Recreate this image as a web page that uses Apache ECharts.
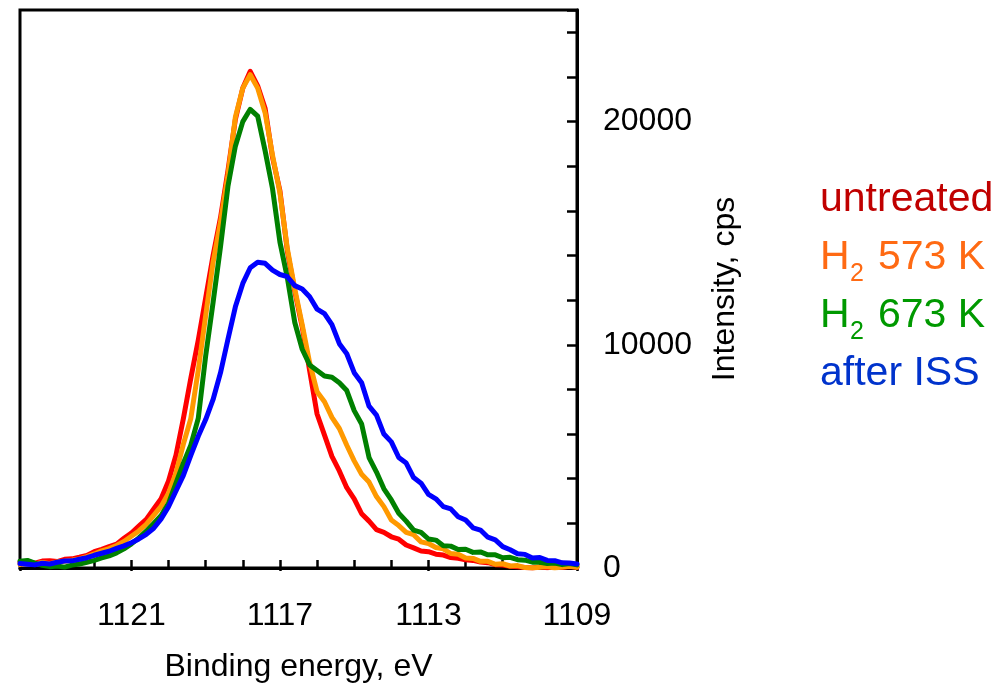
<!DOCTYPE html>
<html>
<head>
<meta charset="utf-8">
<script src="https://cdn.jsdelivr.net/npm/echarts@6/dist/echarts.min.js"></script>
<style>
  html, body { margin: 0; padding: 0; background: #fff; }
  #chart { width: 1003px; height: 688px; }
</style>
</head>
<body>
<div id="chart"></div>
<script>
// binding energy, eV (read every 0.2 eV)
const energies = [1124.0, 1123.8, 1123.6, 1123.4, 1123.2, 1123.0, 1122.8, 1122.6, 1122.4, 1122.2,
  1122.0, 1121.8, 1121.6, 1121.4, 1121.2, 1121.0, 1120.8, 1120.6, 1120.4, 1120.2,
  1120.0, 1119.8, 1119.6, 1119.4, 1119.2, 1119.0, 1118.8, 1118.6, 1118.4, 1118.2,
  1118.0, 1117.8, 1117.6, 1117.4, 1117.2, 1117.0, 1116.8, 1116.6, 1116.4, 1116.2,
  1116.0, 1115.8, 1115.6, 1115.4, 1115.2, 1115.0, 1114.8, 1114.6, 1114.4, 1114.2,
  1114.0, 1113.8, 1113.6, 1113.4, 1113.2, 1113.0, 1112.8, 1112.6, 1112.4, 1112.2,
  1112.0, 1111.8, 1111.6, 1111.4, 1111.2, 1111.0, 1110.8, 1110.6, 1110.4, 1110.2,
  1110.0, 1109.8, 1109.6, 1109.4, 1109.2, 1109.0]

// intensity, cps
const untreated = [250, 290, 220, 310, 330, 290, 390, 410, 480, 560,
  730, 840, 960, 1070, 1330, 1570, 1880, 2180, 2640, 3100,
  3900, 5050, 6700, 8500, 10200, 12100, 14000, 15700, 17800, 20100,
  21500, 22250, 21600, 20600, 18400, 16900, 14200, 12400, 10800, 8850,
  6900, 5950, 5000, 4350, 3600, 3100, 2430, 2100, 1720, 1600,
  1400, 1290, 1030, 900, 760, 730, 620, 580, 470, 440,
  370, 340, 270, 240, 150, 130, 80, 60, 20, 0,
  50, 10, 60, 20, 70, 30]
const h2_573 = [150, 210, 170, 250, 190, 270, 300, 350, 410, 510,
  630, 770, 870, 1010, 1190, 1420, 1660, 1960, 2360, 2760,
  3350, 4250, 5550, 6700, 8850, 11300, 13700, 15500, 17600, 20200,
  21500, 22100, 21500, 20400, 18500, 16800, 14300, 12500, 10900, 9200,
  7900, 7450, 6750, 6250, 5500, 4800, 4200, 3850, 3200, 2750,
  2150, 1900, 1600, 1490, 1170, 1100, 920, 860, 650, 620,
  450, 430, 300, 300, 170, 190, 90, 110, 20, 0,
  30, 70, 0, 40, 80, 30]
const h2_673 = [300, 340, 220, 120, 60, 90, 40, 130, 180, 260,
  340, 450, 540, 680, 860, 1080, 1350, 1650, 2000, 2350,
  2900, 3800, 4700, 5500, 6700, 9500, 11900, 14400, 17100, 18900,
  20000, 20550, 20250, 18700, 17000, 14600, 13000, 11000, 9800, 9100,
  8850, 8600, 8550, 8300, 7950, 7050, 6450, 4950, 4300, 3550,
  3050, 2450, 2100, 1700, 1600, 1300, 1250, 1000, 980, 830,
  840, 700, 720, 590, 590, 460, 480, 370, 350, 260,
  260, 200, 220, 150, 200, 140]
const afterISS = [200, 170, 140, 210, 180, 260, 310, 320, 390, 460,
  570, 660, 750, 880, 990, 1130, 1300, 1510, 1780, 2200,
  2750, 3450, 4150, 5050, 5900, 6650, 7550, 8750, 10250, 11700,
  12750, 13450, 13700, 13650, 13350, 13150, 13050, 12650, 12500, 12150,
  11600, 11400, 10900, 10050, 9600, 8750, 8300, 7250, 6850, 6000,
  5650, 4950, 4700, 4050, 3800, 3300, 3100, 2750, 2650, 2300,
  2150, 1800, 1700, 1380, 1260, 960, 820, 640, 610, 450,
  470, 340, 330, 230, 220, 180]

const seriesNames = ['untreated', 'H2 573 K', 'H2 673 K', 'after ISS']
const lineColors = ['#ff0000', '#ff9900', '#008000', '#0000ff']
const textColors = ['#c00000', '#ff6a13', '#009900', '#0033cc']

const font = 'Liberation Sans, Arial, sans-serif'
const chart = echarts.init(document.getElementById('chart'))

function toPairs(values) {
  return energies.map((e, i) => [e, values[i]])
}

// same plot box for both grids, 2nd one only carries the long ticks
const box = { left: 20, right: 426, top: 10, bottom: 117 }

const option = {
  animation: false,
  textStyle: { fontFamily: font },
  grid: [
    Object.assign({ show: true, borderColor: '#000', borderWidth: 3, backgroundColor: 'transparent' }, box),
    Object.assign({ show: false }, box)
  ],
  xAxis: [
    {
      type: 'value',
      gridIndex: 0,
      min: 1109,
      max: 1124,
      interval: 1,
      inverse: true,
      name: 'Binding energy, eV',
      nameLocation: 'middle',
      nameGap: 83,
      nameTextStyle: { fontSize: 32, color: '#000', fontFamily: font },
      axisLine: { lineStyle: { color: '#000', width: 3 } },
      axisTick: { inside: true, length: 8, lineStyle: { color: '#000', width: 2.5 } },
      axisLabel: {
        fontSize: 32,
        color: '#000',
        margin: 32,
        fontFamily: font,
        formatter: v => ((v - 1109) % 4 === 0 ? String(v) : '')
      },
      splitLine: { show: false }
    },
    {
      type: 'value',
      gridIndex: 1,
      min: 1109,
      max: 1124,
      interval: 4,
      inverse: true,
      position: 'bottom',
      axisLine: { show: false },
      axisTick: { inside: true, length: 10, lineStyle: { color: '#000', width: 2.5 } },
      axisLabel: { show: false },
      splitLine: { show: false }
    }
  ],
  yAxis: [
    {
      type: 'value',
      gridIndex: 0,
      position: 'right',
      min: 0,
      max: 25000,
      interval: 2000,
      name: 'Intensity, cps',
      nameLocation: 'middle',
      nameRotate: 90,
      nameGap: 132,
      nameTextStyle: { fontSize: 32, color: '#000', fontFamily: font },
      axisLine: { show: true, lineStyle: { color: '#000', width: 3 } },
      axisTick: { show: true, inside: true, length: 10, lineStyle: { color: '#000', width: 2.5 } },
      axisLabel: {
        fontSize: 32,
        color: '#000',
        margin: 26,
        fontFamily: font,
        formatter: v => (v % 10000 === 0 ? String(v) : '')
      },
      splitLine: { show: false }
    },
    { type: 'value', gridIndex: 1, min: 0, max: 1, show: false }
  ],
  series: [untreated, h2_573, h2_673, afterISS].map((vals, i) => ({
    name: seriesNames[i],
    type: 'line',
    xAxisIndex: 0,
    yAxisIndex: 0,
    data: toPairs(vals),
    showSymbol: false,
    symbol: 'none',
    silent: true,
    lineStyle: { color: lineColors[i], width: 5, join: 'round', cap: 'round' },
    z: 2 + i
  })),
  // legend is plain coloured text on the right, H2 with a subscript
  graphic: [
    { type: 'text', x: 820, y: 200, style: { text: 'untreated', fill: textColors[0], fontSize: 41, fontFamily: font, verticalAlign: 'middle' } },
    { type: 'text', x: 820, y: 258, style: { text: 'H', fill: textColors[1], fontSize: 41, fontFamily: font, verticalAlign: 'middle' } },
    { type: 'text', x: 850, y: 274, style: { text: '2', fill: textColors[1], fontSize: 25, fontFamily: font, verticalAlign: 'middle' } },
    { type: 'text', x: 878, y: 258, style: { text: '573 K', fill: textColors[1], fontSize: 41, fontFamily: font, verticalAlign: 'middle' } },
    { type: 'text', x: 820, y: 316, style: { text: 'H', fill: textColors[2], fontSize: 41, fontFamily: font, verticalAlign: 'middle' } },
    { type: 'text', x: 850, y: 332, style: { text: '2', fill: textColors[2], fontSize: 25, fontFamily: font, verticalAlign: 'middle' } },
    { type: 'text', x: 878, y: 316, style: { text: '673 K', fill: textColors[2], fontSize: 41, fontFamily: font, verticalAlign: 'middle' } },
    { type: 'text', x: 820, y: 374, style: { text: 'after ISS', fill: textColors[3], fontSize: 41, fontFamily: font, verticalAlign: 'middle' } }
  ]
}

chart.setOption(option)
</script>
</body>
</html>
